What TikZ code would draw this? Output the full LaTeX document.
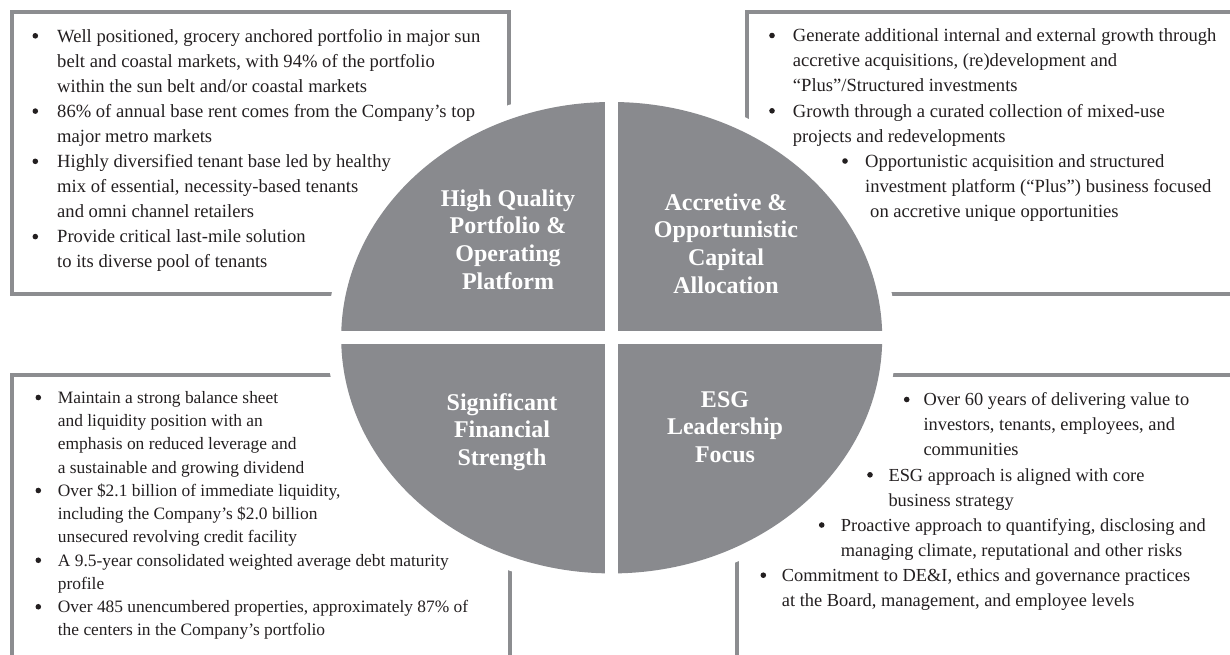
\documentclass[tikz,border=0pt]{standalone}
\usepackage{fontspec}
\setmainfont{Liberation Serif}
\definecolor{quad}{HTML}{898A8E}
\definecolor{framegray}{HTML}{8C8D90}
\definecolor{ink}{HTML}{231F20}

\begin{document}
\begin{tikzpicture}[x=1pt,y=-1pt,
  frameline/.style={draw=framegray,line width=4pt},
  body/.style={anchor=base west,inner sep=0pt,text=ink,font=\fontsize{18.6}{25}\selectfont},
  rbody/.style={anchor=base west,inner sep=0pt,text=ink,font=\fontsize{18.4}{25}\selectfont},
  smallbody/.style={anchor=base west,inner sep=0pt,text=ink,font=\fontsize{17.4}{23}\selectfont},
  dot/.style={circle,fill=ink,inner sep=0pt,minimum size=5.6pt,yshift=6.2pt},
  title/.style={anchor=base,inner sep=0pt,text=white,font=\fontsize{24}{28}\selectfont\bfseries}]
\useasboundingbox (0,0) rectangle (1230,654);
\clip (0,0) rectangle (1230,654);

% four framed text panels (partly running off the page)
\draw[frameline] (11.5,12) rectangle (508.5,293.5);
\draw[frameline] (747,12) rectangle (1250,293.5);
\draw[frameline] (12,374.7) rectangle (509.5,680);
\draw[frameline] (736.7,375.3) rectangle (1250,680);

% central ellipse with white halo, split into four quadrants
\fill[white] (611.7,337.7) ellipse [x radius=284.5, y radius=249.5];
\fill[quad] (611.7,337.7) ellipse [x radius=270.5, y radius=235.7];
\draw[white,line width=13.3pt] (611.7,96) -- (611.7,580);
\draw[white,line width=13.3pt] (334,337.7) -- (889,337.7);

% quadrant titles
\foreach \s [count=\i] in {High Quality, Portfolio \&, Operating, Platform}
  \node[title] (hq\i) at (508,{206+27.7*(\i-1)}) {\s};
\foreach \s [count=\i] in {Accretive \&, Opportunistic, Capital, Allocation}
  \node[title] (ac\i) at (726,{210+27.7*(\i-1)}) {\s};
\foreach \s [count=\i] in {Significant, Financial, Strength}
  \node[title] (sf\i) at (502,{410+27.8*(\i-1)}) {\s};
\foreach \s [count=\i] in {ESG, Leadership, Focus}
  \node[title] (esg\i) at (725,{407+27.8*(\i-1)}) {\s};

% top-left panel
\foreach \s [count=\i] in {
  {Well positioned, grocery anchored portfolio in major sun},
  {belt and coastal markets, with 94\% of the portfolio},
  {within the sun belt and/or coastal markets},
  {86\% of annual base rent comes from the Company’s top},
  {major metro markets},
  {Highly diversified tenant base led by healthy},
  {mix of essential, necessity-based tenants},
  {and omni channel retailers},
  {Provide critical last-mile solution},
  {to its diverse pool of tenants}}
  \node[body] (tl\i) at (57,{42+25.1*(\i-1)}) {\s};
\foreach \i in {1,4,6,9}
  \node[dot] (tlb\i) at (35.3,{42+25.1*(\i-1)}) {};

% top-right panel
\foreach \s [count=\i] in {
  {Generate additional internal and external growth through},
  {accretive acquisitions, (re)development and},
  {“Plus”/Structured investments},
  {Growth through a curated collection of mixed-use},
  {projects and redevelopments}}
  \node[body] (tr\i) at (792.7,{41.7+25.1*(\i-1)}) {\s};
\node[body] (tr6) at (865,{41.7+25.1*5}) {Opportunistic acquisition and structured};
\node[body] (tr7) at (865,{41.7+25.1*6}) {investment platform (“Plus”) business focused};
\node[body] (tr8) at (870,{41.7+25.1*7}) {on accretive unique opportunities};
\node[dot] (trb1) at (772,41.7) {};
\node[dot] (trb4) at (772,{41.7+25.1*3}) {};
\node[dot] (trb6) at (845,{41.7+25.1*5}) {};

% bottom-left panel
\foreach \s [count=\i] in {
  {Maintain a strong balance sheet},
  {and liquidity position with an},
  {emphasis on reduced leverage and},
  {a sustainable and growing dividend},
  {Over \$2.1 billion of immediate liquidity,},
  {including the Company’s \$2.0 billion},
  {unsecured revolving credit facility},
  {A 9.5-year consolidated weighted average debt maturity},
  {profile},
  {Over 485 unencumbered properties, approximately 87\% of},
  {the centers in the Company’s portfolio}}
  \node[smallbody] (bl\i) at (57.7,{403.3+23.25*(\i-1)}) {\s};
\foreach \i in {1,5,8,10}
  \node[dot,yshift=-0.4pt] (blb\i) at (38.3,{403.3+23.25*(\i-1)}) {};

% bottom-right panel (stepped indents)
\node[rbody] (br1) at (923.3,405.7) {Over 60 years of delivering value to};
\node[rbody] (br2) at (923.3,430.8) {investors, tenants, employees, and};
\node[rbody] (br3) at (923.3,455.9) {communities};
\node[rbody] (br4) at (888.3,481.0) {ESG approach is aligned with core};
\node[rbody] (br5) at (888.3,506.1) {business strategy};
\node[rbody] (br6) at (840.7,531.2) {Proactive approach to quantifying, disclosing and};
\node[rbody] (br7) at (840.7,556.3) {managing climate, reputational and other risks};
\node[rbody] (br8) at (781.7,581.4) {Commitment to DE\&I, ethics and governance practices};
\node[rbody] (br9) at (781.7,606.5) {at the Board, management, and employee levels};
\node[dot] (brb1) at (906.7,405.7) {};
\node[dot] (brb4) at (870,481.0) {};
\node[dot] (brb6) at (821.7,531.2) {};
\node[dot] (brb8) at (763.3,581.4) {};
\end{tikzpicture}
\end{document}
